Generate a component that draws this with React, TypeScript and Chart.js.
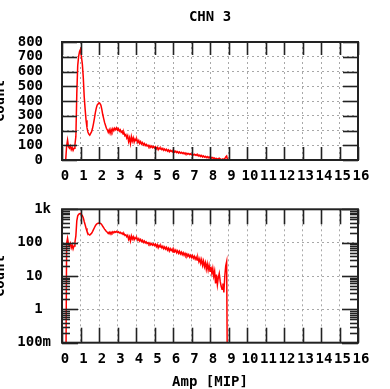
import React, { useEffect, useRef } from "react";
import { Chart, registerables } from "chart.js";

Chart.register(...registerables);

const TITLE = "CHN 3";
const X_TITLE = "Amp [MIP]";
const Y_TITLE = "Count";

// histogram bins: first bin centre and width (MIP)
const BIN_START = 0.2;
const BIN_WIDTH = 0.05;

// counts per bin
const counts = [
  0, 95, 135, 90, 80, 95, 70, 85, 65, 80,
  105, 160, 450, 640, 705, 735, 750, 700, 650, 560,
  430, 345, 270, 220, 190, 175, 168, 180, 192, 215,
  245, 280, 320, 350, 372, 380, 388, 382, 372, 345,
  310, 282, 255, 235, 215, 205, 188, 205, 182, 208,
  192, 212, 198, 215, 205, 218, 202, 212, 196, 205,
  188, 195, 176, 185, 165, 172, 150, 165, 125, 150,
  112, 158, 128, 150, 122, 142, 130, 138, 118, 132,
  112, 125, 108, 118, 102, 112, 98, 106, 94, 100,
  90, 98, 86, 94, 84, 92, 82, 90, 76, 86,
  70, 82, 74, 80, 70, 78, 66, 74, 64, 72,
  60, 68, 56, 66, 58, 64, 52, 62, 54, 60,
  50, 57, 48, 55, 46, 52, 44, 50, 42, 48,
  41, 46, 39, 44, 37, 42, 36, 41, 34, 39,
  32, 37, 30, 35, 27, 33, 24, 31, 21, 28,
  19, 25, 16, 23, 15, 21, 14, 19, 12, 17,
  10, 14, 6, 11, 5.5, 9, 12, 7, 5, 4,
  6, 3.2, 10, 20, 27, 0,
];

const xTicks = [0, 1, 2, 3, 4, 5, 6, 7, 8, 9, 10, 11, 12, 13, 14, 15, 16];
const linTicks = [0, 100, 200, 300, 400, 500, 600, 700, 800];
const logTicks = [0.1, 1, 10, 100, 1000];
const logLabels = ["100m", "1 ", "10 ", "100 ", "1k"];
const logMinorFactors = [2, 3, 4, 5, 6, 7, 8, 9];
// empty bins are drawn below the log axis floor (they fall off the bottom)
const LOG_EMPTY = 0.001;

const FONT_FAMILY = '"DejaVu Sans Mono", monospace';
const TEXT_COLOR = "#000000";
const LINE_COLOR = "#ff0000";
const FRAME_COLOR = "#222222";
const GRID_COLOR = "#a8a8a8";

const points = counts.map((c, i) => ({
  x: +(BIN_START + i * BIN_WIDTH).toFixed(2),
  y: c,
}));
const logPoints = points.map((p) => ({ x: p.x, y: p.y > 0 ? p.y : LOG_EMPTY }));

type FrameOpts = {
  xLen: number;
  yLen: number;
  yMinor?: number[];
  yMinorLen?: number;
  title?: string;
};

function framePlugin(o: FrameOpts) {
  return {
    id: "frameTicks",
    afterDraw(chart: any) {
      const { ctx, chartArea: a, scales } = chart;
      const xs = scales.x;
      const ys = scales.y;
      ctx.save();
      ctx.strokeStyle = FRAME_COLOR;
      ctx.lineWidth = 1.6;
      const seg = (x1: number, y1: number, x2: number, y2: number) => {
        ctx.beginPath();
        ctx.moveTo(x1, y1);
        ctx.lineTo(x2, y2);
        ctx.stroke();
      };
      for (const v of xTicks) {
        const px = Math.round(xs.getPixelForValue(v)) + 0.5;
        seg(px, a.bottom, px, a.bottom - o.xLen);
        seg(px, a.top, px, a.top + o.xLen);
      }
      for (const t of ys.ticks) {
        const py = Math.round(ys.getPixelForValue(t.value)) + 0.5;
        seg(a.left, py, a.left + o.yLen, py);
        seg(a.right, py, a.right - o.yLen, py);
      }
      if (o.yMinor) {
        for (const v of o.yMinor) {
          const py = Math.round(ys.getPixelForValue(v)) + 0.5;
          seg(a.left, py, a.left + (o.yMinorLen || 7), py);
          seg(a.right, py, a.right - (o.yMinorLen || 7), py);
        }
      }
      ctx.lineWidth = 2;
      ctx.strokeRect(a.left, a.top, a.right - a.left, a.bottom - a.top);
      if (o.title) {
        ctx.fillStyle = TEXT_COLOR;
        ctx.font = `bold 14px ${FONT_FAMILY}`;
        ctx.textAlign = "center";
        ctx.textBaseline = "middle";
        ctx.fillText(o.title, (a.left + a.right) / 2, 17.5);
      }
      ctx.restore();
    },
  };
}

const tickFont = { family: FONT_FAMILY, size: 14, weight: "bold" as const, lineHeight: 1 };

function xScale(labelPad: number, height: number, showTitle: boolean) {
  return {
    type: "linear" as const,
    min: 0,
    max: 16,
    afterBuildTicks: (s: any) => {
      s.ticks = xTicks.map((v) => ({ value: v }));
    },
    afterFit: (s: any) => {
      s.height = height;
    },
    ticks: {
      font: tickFont,
      color: TEXT_COLOR,
      padding: labelPad,
      labelOffset: 3,
      maxRotation: 0,
      autoSkip: false,
      callback: (v: any) => String(v),
    },
    grid: { color: GRID_COLOR, lineWidth: 1, drawTicks: false },
    border: { display: false, dash: [2, 3] },
    title: {
      display: showTitle,
      text: X_TITLE,
      color: TEXT_COLOR,
      font: tickFont,
      padding: { top: 0, bottom: 0 },
    },
  };
}

function ChartBox(props: { log: boolean; top: number; height: number }) {
  const ref = useRef<HTMLCanvasElement | null>(null);
  useEffect(() => {
    if (!ref.current) return;
    const log = props.log;
    const yScale: any = log
      ? {
          type: "logarithmic",
          min: 0.1,
          max: 1000,
          afterBuildTicks: (s: any) => {
            s.ticks = logTicks.map((v) => ({ value: v }));
          },
          ticks: {
            font: tickFont,
            color: TEXT_COLOR,
            padding: 11,
            autoSkip: false,
            callback: (_v: any, i: number) => logLabels[i],
          },
        }
      : {
          type: "linear",
          min: 0,
          max: 800,
          afterBuildTicks: (s: any) => {
            s.ticks = linTicks.map((v) => ({ value: v }));
          },
          ticks: {
            font: tickFont,
            color: TEXT_COLOR,
            padding: 19,
            autoSkip: false,
            callback: (v: any) => String(v),
          },
        };
    yScale.afterFit = (s: any) => {
      s.width = 62;
    };
    yScale.grid = { color: GRID_COLOR, lineWidth: 1, drawTicks: false };
    yScale.border = { display: false, dash: [2, 3] };
    yScale.title = {
      display: true,
      text: Y_TITLE,
      color: TEXT_COLOR,
      font: tickFont,
      padding: { top: -7, bottom: 0 },
    };

    const minor: number[] = [];
    if (log) {
      for (let d = 0; d < logTicks.length - 1; d++) {
        for (const f of logMinorFactors) minor.push(logTicks[d] * f);
      }
    }

    const chart = new Chart(ref.current, {
      type: "line",
      data: {
        datasets: [
          {
            data: log ? logPoints : points,
            borderColor: LINE_COLOR,
            borderWidth: 1.5,
            pointRadius: 0,
            tension: 0,
            fill: false,
          },
        ],
      },
      options: {
        animation: false,
        responsive: false,
        events: [],
        layout: {
          padding: log
            ? { left: 0, right: 32, top: 19.3, bottom: 0 }
            : { left: 0, right: 32, top: 42, bottom: 0 },
        },
        plugins: { legend: { display: false }, tooltip: { enabled: false }, title: { display: false } },
        scales: {
          x: log ? xScale(10, 46.3, true) : xScale(9, 30, false),
          y: yScale,
        },
      },
      plugins: [
        framePlugin(
          log
            ? { xLen: 15, yLen: 16, yMinor: minor, yMinorLen: 8 }
            : { xLen: 13, yLen: 15, title: TITLE }
        ),
      ],
    } as any);
    return () => chart.destroy();
  }, [props.log]);
  return (
    <canvas
      ref={ref}
      width={390}
      height={props.height}
      style={{ position: "absolute", left: 0, top: props.top, width: 390, height: props.height, display: "block" }}
    />
  );
}

export default function App() {
  return (
    <div style={{ position: "fixed", left: 0, top: 0, width: 390, height: 389, background: "#ffffff", overflow: "hidden" }}>
      <ChartBox log={false} top={0} height={190} />
      <ChartBox log={true} top={190} height={199} />
    </div>
  );
}
